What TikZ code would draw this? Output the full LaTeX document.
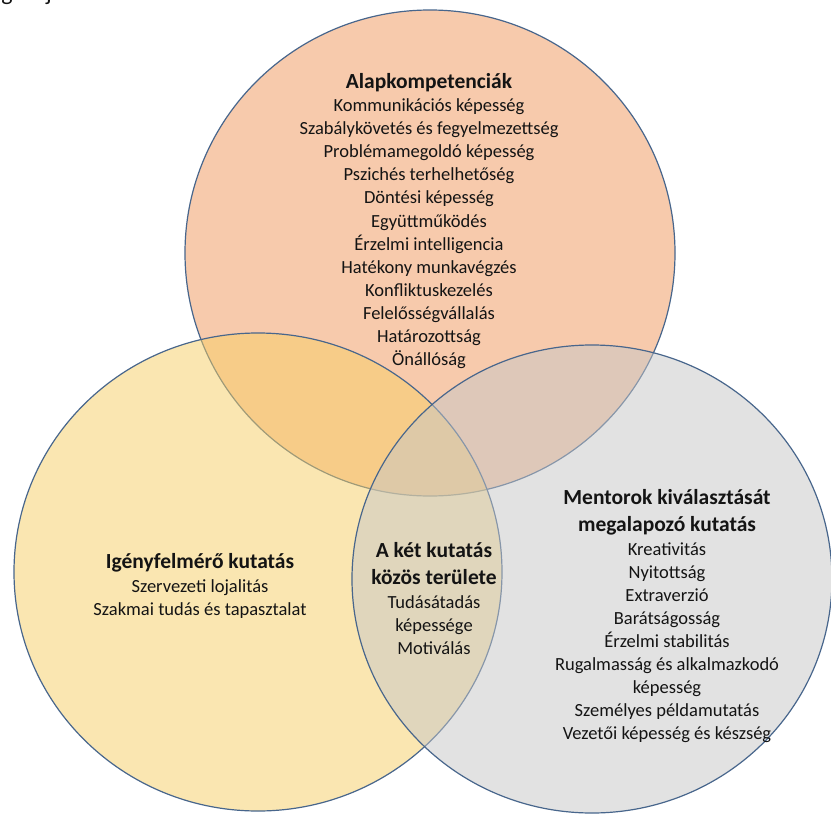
\documentclass[tikz,border=0pt]{standalone}
\usepackage{fontspec}
\setmainfont{Carlito}
\begin{document}
\begin{tikzpicture}[x=1pt,y=-1pt]
\definecolor{topC}{RGB}{241,151,91}
\definecolor{leftC}{RGB}{247,207,101}
\definecolor{rightC}{RGB}{199,199,199}
\definecolor{edgeC}{RGB}{72,102,140}
\definecolor{txtC}{RGB}{20,20,20}
\tikzset{
  venn/.style={draw=edgeC, line width=1.2pt, fill opacity=0.5, draw opacity=1},
  item/.style={font=\fontsize{18.5}{22}\selectfont, anchor=base, inner sep=0pt, text=txtC},
  head/.style={font=\fontsize{21.5}{26}\selectfont\bfseries, anchor=base, inner sep=0pt, text=txtC},
  frag/.style={font=\fontsize{24}{28}\selectfont, anchor=base, inner sep=0pt, text=txtC}
}
\useasboundingbox (0,0) rectangle (831,814);
\fill[white] (0,0) rectangle (831,814);
% cropped descenders of a caption above
\begin{scope}
\clip (0,0) rectangle (831,814);
\node[frag] (fragg) at (7,0) {g};
\node[frag] (fragj) at (49,0) {j};
\end{scope}
% circles
\fill[venn, fill=topC] (430,253) ellipse [x radius=245pt, y radius=243pt];
\fill[venn, fill=leftC] (258,572) ellipse [x radius=244pt, y radius=239pt];
\fill[venn, fill=rightC] (592,579) ellipse [x radius=240pt, y radius=234pt];
% top block
\node[head] (toph) at (429,88) {Alapkompetenciák};
\foreach \t [count=\i from 0] in {Kommunikációs képesség, Szabálykövetés és fegyelmezettség, Problémamegoldó képesség, Pszichés terhelhetőség, Döntési képesség, Együttműködés, Érzelmi intelligencia, Hatékony munkavégzés, Konfliktuskezelés, Felelősségvállalás, Határozottság, Önállóság}
  \node[item] (top\i) at (429,111.5+23.1*\i) {\t};
% left block
\node[head] (lefth) at (200,568) {Igényfelmérő kutatás};
\node[item] (left0) at (200,592) {Szervezeti lojalitás};
\node[item] (left1) at (200,615) {Szakmai tudás és tapasztalat};
% middle block
\node[head] (midh0) at (434,557.5) {A két kutatás};
\node[head] (midh1) at (434,584) {közös területe};
\node[item] (mid0) at (434,608) {Tudásátadás};
\node[item] (mid1) at (434,631) {képessége};
\node[item] (mid2) at (434,654) {Motiválás};
% right block
\node[head] (righth0) at (667,504.5) {Mentorok kiválasztását};
\node[head] (righth1) at (667,531.5) {megalapozó kutatás};
\foreach \t [count=\i from 0] in {Kreativitás, Nyitottság, Extraverzió, Barátságosság, Érzelmi stabilitás, Rugalmasság és alkalmazkodó, képesség, Személyes példamutatás, Vezetői képesség és készség}
  \node[item] (right\i) at (667,555+23.1*\i) {\t};
\end{tikzpicture}
\end{document}
